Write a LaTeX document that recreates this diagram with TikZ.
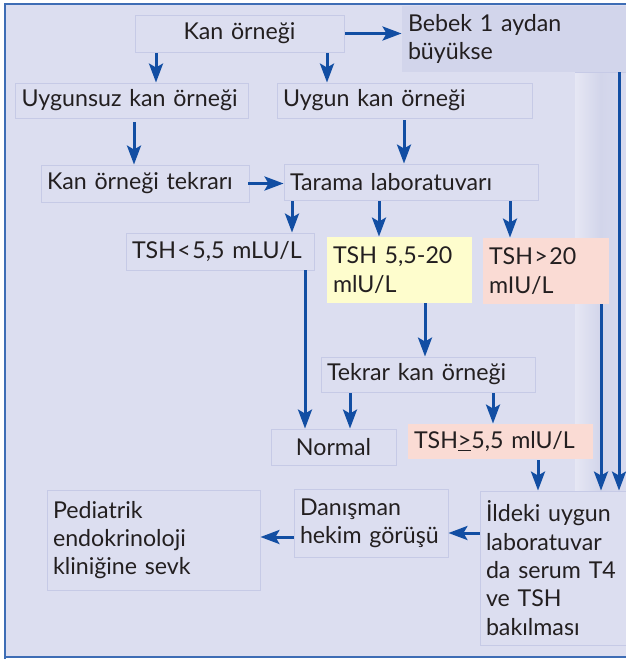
\documentclass[tikz,border=0pt]{standalone}
\usepackage{fontspec}
\setmainfont{Lato}
\usetikzlibrary{arrows.meta}
\definecolor{bg}{HTML}{DCDEF0}
\definecolor{boxline}{HTML}{C6CAE6}
\definecolor{frameblue}{HTML}{3E6DB5}
\definecolor{arrblue}{HTML}{124EA3}
\definecolor{txt}{HTML}{231F20}
\definecolor{pinkfill}{HTML}{FADBD4}
\definecolor{yellowfill}{HTML}{FEFDCD}
\definecolor{bebekfill}{HTML}{D2D5EB}
\definecolor{stripl}{HTML}{E6E7F4}
\definecolor{stripm}{HTML}{D2D5EA}
\definecolor{stripr}{HTML}{D9DBEF}
\tikzset{
  box/.style={draw=boxline, line width=0.9pt, inner xsep=6pt, inner ysep=0pt,
    text=txt, font=\fontsize{23.2}{28.3}\selectfont, align=left},
  arr/.style={draw=arrblue, line width=3pt, -{Stealth[length=19pt,width=14pt,inset=4pt]}},
  frame/.style={draw=frameblue, line width=2pt}
}
\begin{document}
\begin{tikzpicture}[x=1pt,y=-1pt]
\useasboundingbox (0,0) rectangle (626,661);
\fill[white] (0,0) rectangle (626,661);
\fill[bg] (5,4) rectangle (626,658);
\shade[left color=stripl, right color=stripr, middle color=stripm] (575,72) rectangle (626,491);
\draw[frame] (5,659) -- (5,4) -- (626,4);
\draw[frame] (5,657) -- (626,657);

\node[box, draw=none, fill=bebekfill, minimum width=224pt, minimum height=66pt, text width=212pt] (bebek) at (514,39) {Bebek 1 aydan\\büyükse};
\draw[boxline, line width=0.9pt] (575,72) -- (626,72);

\node[box, minimum width=209pt, minimum height=37pt, text width=197pt, align=center] (kan) at (239.5,33.5) {Kan örneği};
\node[box, minimum width=232pt, minimum height=35pt, text width=221pt] (uygunsuz) at (132,100.5) {Uygunsuz kan örneği};
\node[box, minimum width=255pt, minimum height=35pt, text width=243pt] (uygun) at (404.5,100.5) {Uygun kan örneği};
\node[box, minimum width=208pt, minimum height=37pt, text width=196pt] (tekrari) at (145,183.5) {Kan örneği tekrarı};
\node[box, minimum width=254pt, minimum height=36pt, text width=242pt] (tarama) at (411,182) {Tarama laboratuvarı};
\node[box, minimum width=186pt, minimum height=37pt, text width=176pt] (tshlt) at (220,251.5) {TSH\kern1.5pt<\kern1.5pt5,5 mLU/L};
\node[box, draw=none, fill=yellowfill, minimum width=145pt, minimum height=66pt, text width=133pt] (tshmid) at (399.5,270) {TSH 5,5-20\\mlU/L};
\node[box, draw=none, fill=pinkfill, minimum width=126pt, minimum height=66pt, text width=114pt] (tshgt) at (546,271) {TSH\kern1.5pt>\kern1.5pt20\\mIU/L};
\node[box, minimum width=214pt, minimum height=35pt, text width=202pt] (tekrar) at (428,374.5) {Tekrar kan örneği};
\node[box, minimum width=125pt, minimum height=36pt, text width=113pt, align=center] (normal) at (333.5,447) {Normal};
\node[box, draw=none, fill=pinkfill, minimum width=185pt, minimum height=35pt, text width=173pt] (tshge) at (500.5,441.5) {TSH\underline{>}5,5 mlU/L};
\node[box, minimum width=146pt, minimum height=154pt, text width=134pt] (ildeki) at (553,568) {İldeki uygun\\laboratuvar\\da serum T4\\ve TSH\\bakılması};
\node[box, minimum width=154pt, minimum height=68pt, text width=142pt] (danis) at (371,523) {Danışman\\hekim görüşü};
\node[box, minimum width=213pt, minimum height=100pt, text width=201pt] (pedia) at (153.5,540) {Pediatrik\\endokrinoloji\\kliniğine sevk};

% connectors
\draw[arr] ([xshift=1pt]kan.east) -- (bebek.west |- kan.east);
\draw[arr] (156,0 |- kan.south) ++(0,1) -- (156,0 |- uygunsuz.north);
\draw[arr] (327,0 |- kan.south) ++(0,1) -- (327,0 |- uygun.north);
\draw[arr] (134,0 |- uygunsuz.south) ++(0,4) -- (134,0 |- tekrari.north);
\draw[arr] (404,0 |- uygun.south) ++(0,2) -- (404,0 |- tarama.north);
\draw[arr] ([xshift=-1pt]tekrari.east) -- (tarama.west |- tekrari.east);
\draw[arr] (292,0 |- tarama.south) ++(0,1) -- (292,0 |- tshlt.north);
\draw[arr] (379,0 |- tarama.south) ++(0,1) -- (379,0 |- tshmid.north);
\draw[arr] (510,0 |- tarama.south) ++(0,1) -- (510,0 |- tshgt.north);
\draw[arr] (425,0 |- tshmid.south) -- (425,0 |- tekrar.north);
\draw[arr] (305,0 |- tshlt.south) -- (305,0 |- normal.north);
\draw[arr] (350,0 |- tekrar.south) ++(0,1) -- (350,0 |- normal.north);
\draw[arr] (493,0 |- tekrar.south) ++(0,1) -- (493,0 |- tshge.north);
\draw[arr] (538,0 |- tshge.south) ++(0,1) -- (538,0 |- ildeki.north);
\draw[arr] (601,0 |- tshgt.south) -- (601,0 |- ildeki.north);
\draw[arr] (619,0 |- bebek.south) -- (619,0 |- ildeki.north);
\draw[arr] (ildeki.west |- 0,533) -- (danis.east |- 0,533);
\draw[arr] (danis.west |- 0,537) -- (pedia.east |- 0,537);
\end{tikzpicture}
\end{document}
